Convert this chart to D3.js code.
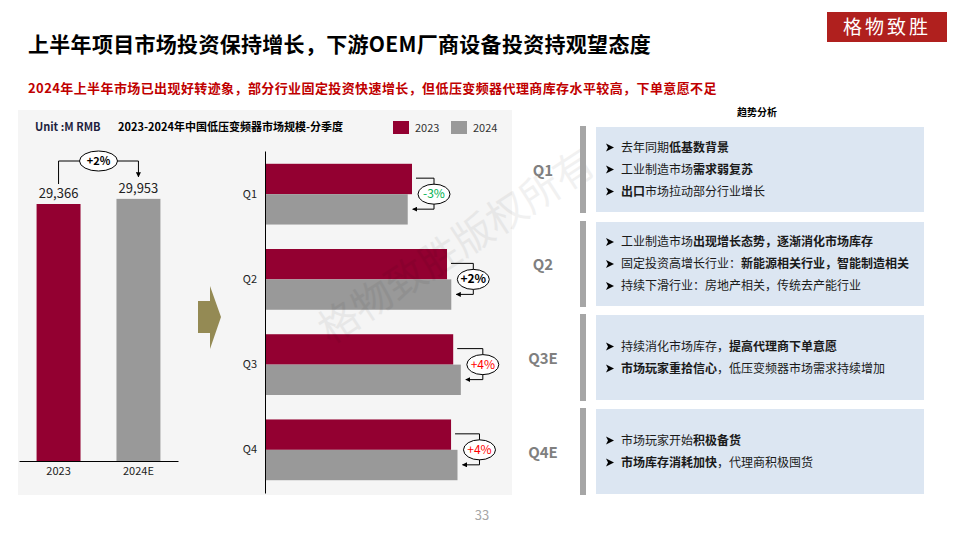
<!DOCTYPE html>
<html><head><meta charset="utf-8">
<script src="https://cdn.jsdelivr.net/npm/d3@7"></script>
<style>body{margin:0;background:#fff}text{font-family:"Noto Sans CJK SC","Noto Sans",sans-serif}</style>
</head><body>
<svg id="c" width="960" height="540"></svg>
<script>
// data
const years = ["2023", "2024E"];
const totals = [29366, 29953];
const quarters = ["Q1", "Q2", "Q3", "Q4"];
const q2023 = [6130, 7600, 7860, 7770];
const q2024 = [5950, 7780, 8180, 8040];
const qGrowth = ["-3%", "+2%", "+4%", "+4%"];
const qGrowthColor = ["#00b050", "#000", "#ff0000", "#ff0000"];
const trendLabels = ["Q1", "Q2", "Q3E", "Q4E"];
const trendLines = [
  [[["去年同期", 0], ["低基数背景", 1]], [["工业制造市场", 0], ["需求弱复苏", 1]], [["出口", 1], ["市场拉动部分行业增长", 0]]],
  [[["工业制造市场", 0], ["出现增长态势，逐渐消化市场库存", 1]], [["固定投资高增长行业：", 0], ["新能源相关行业，智能制造相关", 1]], [["持续下滑行业：房地产相关，传统去产能行业", 0]]],
  [[["持续消化市场库存，", 0], ["提高代理商下单意愿", 1]], [["市场玩家重拾信心", 1], ["，低压变频器市场需求持续增加", 0]]],
  [[["市场玩家开始", 0], ["积极备货", 1]], [["市场库存消耗加快", 1], ["，代理商积极囤货", 0]]]
];

const RED = "#930031", GRAY = "#999999";
const svg = d3.select("#c");

svg.append("defs").append("marker").attr("id", "ar").attr("viewBox", "0 0 10 10")
  .attr("refX", 9).attr("refY", 5).attr("markerWidth", 5).attr("markerHeight", 5).attr("orient", "auto-start-reverse")
  .append("path").attr("d", "M0,0 L10,5 L0,10 z").attr("fill", "#000");

// titles
svg.append("text").attr("x", 28).attr("y", 52).attr("font-size", 21).attr("font-weight", "bold").attr("letter-spacing", 0.3).text("上半年项目市场投资保持增长，下游OEM厂商设备投资持观望态度");
svg.append("text").attr("x", 28).attr("y", 93).attr("font-size", 13).attr("font-weight", "bold").attr("fill", "#c00000").attr("letter-spacing", 0.4)
  .text("2024年上半年市场已出现好转迹象，部分行业固定投资快速增长，但低压变频器代理商库存水平较高，下单意愿不足");
// logo
const logo = svg.append("g");
logo.append("rect").attr("x", 827).attr("y", 12).attr("width", 120).attr("height", 30).attr("fill", "#b0201e");
logo.append("text").attr("x", 887).attr("y", 34).attr("text-anchor", "middle").attr("font-size", 19).attr("fill", "#fff").attr("letter-spacing", 3).text("格物致胜");

// panel
svg.append("rect").attr("x", 18).attr("y", 110).attr("width", 494).attr("height", 385).attr("fill", "#f5f5f5");
svg.append("text").attr("x", 35).attr("y", 131).attr("font-size", 11).attr("font-weight", "bold").attr("fill", "#1f1f3f").text("Unit :M RMB");
svg.append("text").attr("x", 118).attr("y", 131).attr("font-size", 11).attr("font-weight", "bold").text("2023-2024年中国低压变频器市场规模-分季度");
[["2023", RED, 393], ["2024", GRAY, 451]].forEach(([t, c, x]) => {
  svg.append("rect").attr("x", x).attr("y", 121).attr("width", 16).attr("height", 13).attr("fill", c);
  svg.append("text").attr("x", x + 22).attr("y", 132).attr("font-size", 11).attr("fill", "#333").text(t);
});

// left column chart
const xl = d3.scaleBand().domain(years).range([19, 178]).paddingInner(0.45).paddingOuter(0.22);
const yl = d3.scaleLinear().domain([0, 29366]).range([461, 204]);
svg.selectAll(".tb").data(years).join("rect").attr("x", d => xl(d)).attr("width", xl.bandwidth())
  .attr("y", (d, i) => yl(totals[i])).attr("height", (d, i) => 461 - yl(totals[i])).attr("fill", (d, i) => i ? GRAY : RED);
svg.selectAll(".tl").data(years).join("text").attr("x", d => xl(d) + xl.bandwidth() / 2).attr("y", (d, i) => yl(totals[i]) - 6)
  .attr("text-anchor", "middle").attr("font-size", 13).attr("fill", "#222").text((d, i) => d3.format(",")(totals[i]));
const xAxL = svg.append("g").attr("transform", "translate(0,461)").call(d3.axisBottom(xl).tickSize(0).tickPadding(6));
xAxL.select(".domain").attr("stroke", "#000");
xAxL.selectAll("text").attr("font-size", 11).attr("fill", "#222");
const c0 = xl(years[0]) + xl.bandwidth() / 2, c1 = xl(years[1]) + xl.bandwidth() / 2;
svg.append("path").attr("d", `M${c0},${yl(totals[0]) - 20}V161H${c1}V${yl(totals[1]) - 22}`).attr("fill", "none").attr("stroke", "#000").attr("marker-end", "url(#ar)");
svg.append("ellipse").attr("cx", (c0 + c1) / 2).attr("cy", 161).attr("rx", 19).attr("ry", 10).attr("fill", "#fff").attr("stroke", "#000");
svg.append("text").attr("x", (c0 + c1) / 2).attr("y", 165).attr("text-anchor", "middle").attr("font-size", 11).attr("font-weight", "bold").text("+2%");

// big arrow
svg.append("path").attr("d", "M198,301H210V286L221,317L210,349V333H198Z").attr("fill", "#948a54");

// right bar chart
const yq = d3.scaleBand().domain(quarters).range([151, 493]).paddingInner(0.287).paddingOuter(0.15);
const xq = d3.scaleLinear().domain([0, 6130]).range([266, 412]);
const half = yq.bandwidth() / 2;
const gq = svg.append("g");
gq.selectAll(".a").data(quarters).join("rect").attr("x", 266).attr("y", d => yq(d)).attr("height", half)
  .attr("width", (d, i) => xq(q2023[i]) - 266).attr("fill", RED);
gq.selectAll(".b").data(quarters).join("rect").attr("x", 266).attr("y", d => yq(d) + half).attr("height", half)
  .attr("width", (d, i) => xq(q2024[i]) - 266).attr("fill", GRAY);
const yAx = svg.append("g").attr("transform", "translate(265,0)").call(d3.axisLeft(yq).tickSize(0).tickPadding(8));
yAx.select(".domain").attr("stroke", "#000");
yAx.selectAll("text").attr("font-size", 11).attr("fill", "#222");
quarters.forEach((q, i) => {
  const e1 = xq(q2023[i]), e2 = xq(q2024[i]);
  const bx = Math.max(e1, e2) + 22;
  const yt = yq(q) + half - 16, yb = yq(q) + half + 15;
  svg.append("path").attr("d", `M${e1 + 4},${yt}H${bx}V${yb}H${e2 + 5}`).attr("fill", "none").attr("stroke", "#000").attr("marker-end", "url(#ar)");
  svg.append("ellipse").attr("cx", bx).attr("cy", yq(q) + half).attr("rx", 16).attr("ry", 10).attr("fill", "#fff").attr("stroke", "#000");
  svg.append("text").attr("x", bx).attr("y", yq(q) + half + 4).attr("text-anchor", "middle").attr("font-size", 12)
    .attr("font-weight", i === 1 ? "bold" : "normal").attr("fill", qGrowthColor[i]).text(qGrowth[i]);
});

// watermark
svg.append("text").attr("transform", "translate(330,345) rotate(-33)").attr("font-size", 40).attr("fill", "#000").attr("opacity", 0.05).text("格物致胜版权所有");

// trend analysis
svg.append("text").attr("x", 757).attr("y", 116).attr("text-anchor", "middle").attr("font-size", 10).attr("font-weight", "bold").text("趋势分析");
const boxes = [[126, 213], [221, 307], [314, 401], [408, 495]];
boxes.forEach(([t, b], i) => {
  svg.append("rect").attr("x", 580).attr("y", t).attr("width", 6).attr("height", b - t).attr("fill", "#a6a6a6");
  svg.append("rect").attr("x", 596).attr("y", t + 1).attr("width", 328).attr("height", b - t - 2).attr("fill", "#dce6f2");
  const mid = (t + b) / 2;
  svg.append("text").attr("x", 543).attr("y", mid + 6).attr("text-anchor", "middle").attr("font-size", 15).attr("font-weight", "bold").attr("fill", "#7f7f7f").text(trendLabels[i]);
  const lines = trendLines[i], n = lines.length;
  lines.forEach((segs, j) => {
    const y = mid + (j - (n - 1) / 2) * 22 + 4;
    svg.append("path").attr("d", `M606,${y - 8}L614,${y - 4}L606,${y}L608,${y - 4}Z`).attr("fill", "#000");
    const tx = svg.append("text").attr("x", 621).attr("y", y).attr("font-size", 12).attr("fill", "#1a1a1a");
    segs.forEach(([s, bold]) => tx.append("tspan").attr("font-weight", bold ? "bold" : "normal").text(s));
  });
});

svg.append("text").attr("x", 482).attr("y", 520).attr("text-anchor", "middle").attr("font-size", 13).attr("fill", "#a6a6a6").text("33");
</script>
</body></html>
